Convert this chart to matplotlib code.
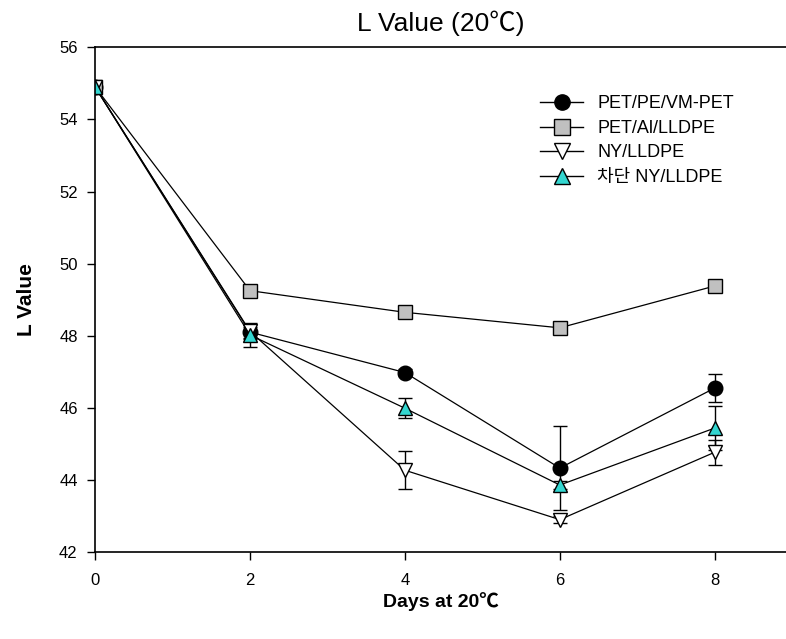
import numpy as np
import matplotlib
matplotlib.use('Agg')
import matplotlib.pyplot as plt
from matplotlib.lines import Line2D

plt.rcParams['font.family'] = ['Liberation Sans', 'Noto Sans CJK KR']

days = [0, 2, 4, 6, 8]

labels = ['PET/PE/VM-PET', 'PET/Al/LLDPE', 'NY/LLDPE', '차단 NY/LLDPE']

vm_pet = [54.9, 48.1, 46.98, 44.33, 46.55]
vm_pet_err = [0.1, 0.15, 0.1, 1.16, 0.38]

al_lldpe = [54.9, 49.25, 48.65, 48.22, 49.38]
al_lldpe_err = [0.1, 0.1, 0.08, 0.1, 0.15]

ny_lldpe = [54.9, 48.12, 44.27, 42.9, 44.77]
ny_lldpe_err = [0.1, 0.2, 0.53, 0.1, 0.35]

bar_ny = [54.9, 48.02, 45.99, 43.86, 45.44]
bar_ny_err = [0.1, 0.33, 0.27, 0.1, 0.6]

series = [vm_pet, al_lldpe, ny_lldpe, bar_ny]
errors = [vm_pet_err, al_lldpe_err, ny_lldpe_err, bar_ny_err]
markers = ['o', 's', 'v', '^']
faces = ['black', '#c0c0c0', 'white', '#33d6d0']

fig = plt.figure(figsize=(7.86, 6.39), dpi=100)
ax = fig.add_axes([0.121, 0.136, 0.879, 0.790])

for vals, err, mk, fc in zip(series, errors, markers, faces):
    ax.errorbar(days, vals, yerr=err, color='black', lw=0.9, elinewidth=1.0,
                capsize=5, capthick=1.0, marker=mk, markersize=10.5,
                markerfacecolor=fc, markeredgecolor='black', markeredgewidth=1.0)

ax.set_xlim(0, 8.92)
ax.set_ylim(42, 56)
ax.set_xticks([0, 2, 4, 6, 8])
ax.set_yticks(np.arange(42, 57, 2))
ax.tick_params(direction='out', length=6, width=1, labelsize=12)
ax.tick_params(axis='x', pad=9)
ax.tick_params(axis='y', pad=6.5)
ax.spines['right'].set_visible(False)
for s in ['left', 'bottom', 'top']:
    ax.spines[s].set_linewidth(1.2)

ax.set_title('L Value (20℃)', fontsize=19, pad=12)
ax.set_xlabel('Days at 20℃', fontsize=14, fontweight='bold', labelpad=3)
ax.set_ylabel('L Value', fontsize=15, fontweight='bold', labelpad=17)

handles = [Line2D([], [], color='black', lw=1.0, marker=mk, markersize=11,
                  markerfacecolor=fc, markeredgecolor='black')
           for mk, fc in zip(markers, faces)]
ax.legend(handles, labels, loc='upper left', bbox_to_anchor=(0.644, 0.905),
          frameon=False, borderpad=0, borderaxespad=0,
          handlelength=2.4, handletextpad=0.78, labelspacing=0.42,
          prop={'family': ['Liberation Sans', 'Noto Sans CJK KR'], 'size': 13})

fig.savefig('out.png', dpi=100)
